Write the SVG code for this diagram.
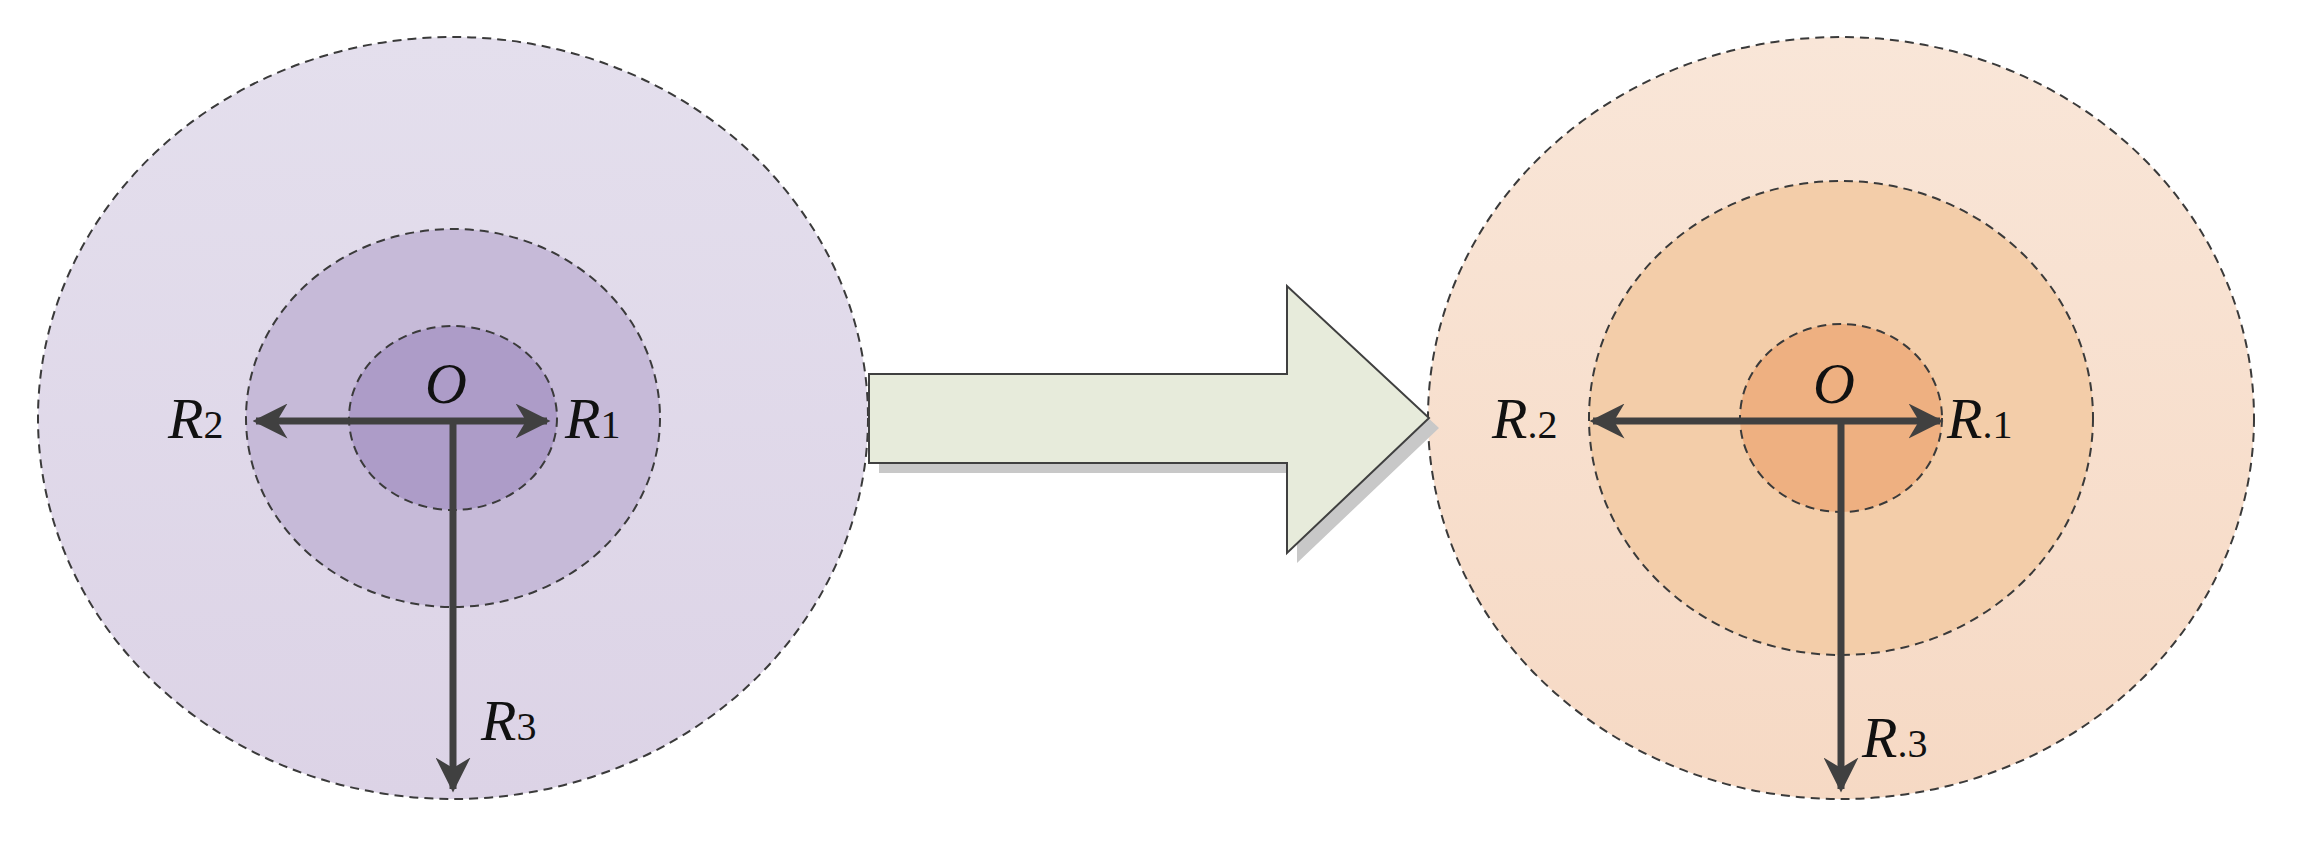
<svg xmlns="http://www.w3.org/2000/svg" width="2299" height="845" viewBox="0 0 2299 845">
<defs>
<style>
.c{stroke:#3a3a3a;stroke-width:2;stroke-dasharray:9 6}
.a{stroke:#404040;stroke-width:7;fill:none}
.t{font-family:"Liberation Serif",serif;font-size:58px;fill:#111}
.i{font-style:italic}
.s{font-size:40px}
</style>
<marker id="h" viewBox="0 0 10 10" refX="9" refY="5" markerWidth="5" markerHeight="5" orient="auto-start-reverse" markerUnits="strokeWidth"><path d="M0,0 L10,5 L0,10 L3,5 Z" fill="#404040"/></marker>
<linearGradient id="gl" x1="0" y1="0" x2="0" y2="1"><stop offset="0" stop-color="#e4dfed"/><stop offset="1" stop-color="#dcd3e6"/></linearGradient>
<linearGradient id="gr" x1="0" y1="0" x2="0" y2="1"><stop offset="0" stop-color="#f9e6d8"/><stop offset="1" stop-color="#f6d9c4"/></linearGradient>
</defs>
<g id="left">
<ellipse class="c" cx="453" cy="418" rx="415" ry="381" fill="url(#gl)"/>
<ellipse class="c" cx="453" cy="418" rx="207" ry="189" fill="#c6bad8"/>
<ellipse class="c" cx="453" cy="418" rx="104" ry="92" fill="#ad9cc8"/>
</g>
<g id="right">
<ellipse class="c" cx="1841" cy="418" rx="413" ry="381" fill="url(#gr)"/>
<ellipse class="c" cx="1841" cy="418" rx="252" ry="237" fill="#f3cda9"/>
<ellipse class="c" cx="1841" cy="418" rx="101" ry="94" fill="#eeb081"/>
</g>
<g id="bigarrow">
<path d="M879,384 H1297 V296 L1439,428 L1297,563 V473 H879 Z" fill="#c8c8c8"/>
<path d="M869,374 H1287 V286 L1429,418 L1287,553 V463 H869 Z" fill="#e7ebdb" stroke="#404040" stroke-width="2"/>
</g>
<g id="connectors">
<path class="a" d="M256,421 H547" marker-start="url(#h)" marker-end="url(#h)"/>
<path class="a" d="M453,421 V789" marker-end="url(#h)"/>
<path class="a" d="M1593,421 H1940" marker-start="url(#h)" marker-end="url(#h)"/>
<path class="a" d="M1841,421 V789" marker-end="url(#h)"/>
</g>
<g id="labels">
<text class="t i" x="425" y="403">O</text>
<text class="t" x="168" y="438"><tspan class="i">R</tspan><tspan class="s">2</tspan></text>
<text class="t" x="565" y="438"><tspan class="i">R</tspan><tspan class="s">1</tspan></text>
<text class="t" x="481" y="740"><tspan class="i">R</tspan><tspan class="s">3</tspan></text>
<text class="t i" x="1813" y="403">O</text>
<text class="t" x="1492" y="438"><tspan class="i">R</tspan><tspan class="s">.2</tspan></text>
<text class="t" x="1947" y="438"><tspan class="i">R</tspan><tspan class="s">.1</tspan></text>
<text class="t" x="1862" y="757"><tspan class="i">R</tspan><tspan class="s">.3</tspan></text>
</g>
</svg>
